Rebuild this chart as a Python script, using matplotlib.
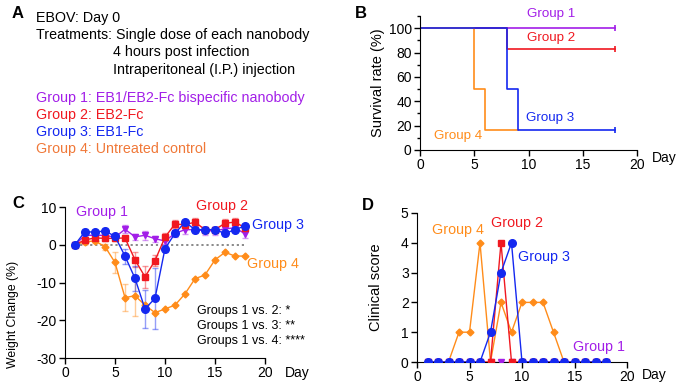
import numpy as np
import matplotlib
matplotlib.use('Agg')
import matplotlib.pyplot as plt

plt.rcParams['font.family'] = ['Liberation Sans', 'DejaVu Sans']
plt.rcParams['font.size'] = 10.3
plt.rcParams['axes.unicode_minus'] = False

purple = '#A21EE8'
red = '#F01820'
blue = '#1428F0'
orange = '#FF8C1A'
orange_txt = '#F07838'

# --- survival (panel B) ---
g1_t = [0, 18]; g1_s = [100, 100]
g2_t = [0, 8, 18]; g2_s = [100, 83.3, 83.3]
g3_t = [0, 8, 9, 18]; g3_s = [100, 50, 16.7, 16.7]
g4_t = [0, 5, 6, 9]; g4_s = [100, 50, 16.7, 16.7]

# --- weight change (panel C) ---
days = np.arange(1, 19)
w1 = [0, 2.5, 2.5, 2.5, 2.0, 4.1, 2.1, 2.5, 1.6, 1.0, 3.0, 4.0, 4.0, 3.7, 3.7, 4.2, 4.5, 2.9]
e1 = [0, 0.8, 0.8, 0.8, 0.6, 1.0, 0.8, 1.2, 0.8, 0.8, 1.0, 1.2, 1.0, 1.0, 1.0, 1.0, 1.2, 1.0]
w2 = [0, 1.3, 1.8, 1.7, 1.7, 1.8, -4.0, -8.5, -4.2, 2.0, 5.5, 5.3, 6.0, 4.0, 4.0, 5.7, 6.0, 4.5]
e2 = [0, 1.0, 0.8, 0.8, 0.6, 0.6, 2.0, 3.0, 1.5, 1.0, 1.0, 1.2, 1.0, 0.8, 0.8, 1.0, 1.2, 1.0]
w3 = [0, 3.5, 3.3, 3.7, 2.2, -3.0, -8.9, -17.0, -14.2, -1.0, 3.0, 6.0, 4.0, 4.0, 4.0, 3.0, 4.0, 5.0]
e3 = [0, 0.6, 0.6, 0.8, 0.5, 2.0, 3.3, 5.0, 8.0, 1.0, 0.8, 0.6, 0.6, 0.6, 0.6, 0.6, 0.6, 0.6]
w4 = [0, 0.8, 1.0, -0.5, -4.7, -14.0, -13.5, -16.0, -18.0, -17.0, -16.0, -13.0, -9.0, -8.0, -4.0, -2.0, -3.0, -3.0]
e4 = [0, 0.5, 0.5, 0.8, 2.8, 3.5, 5.5, 0, 0, 0, 0, 0, 0, 0, 0, 0, 0, 0]

# --- clinical score (panel D) ---
c1 = [0] * 18
c2 = [0, 0, 0, 0, 0, 0, 0, 4, 0, 0, 0, 0, 0, 0, 0, 0, 0, 0]
c3 = [0, 0, 0, 0, 0, 0, 1, 3, 4, 0, 0, 0, 0, 0, 0, 0, 0, 0]
c4 = [0, 0, 0, 1, 1, 4, 0, 2, 1, 2, 2, 2, 1, 0]

W, H = 680, 388
fig = plt.figure(figsize=(6.8, 3.88), dpi=100)


def px_axes(x0, y0, x1, y1):
    return fig.add_axes([x0 / W, 1 - y1 / H, (x1 - x0) / W, (y1 - y0) / H])


def style(ax):
    ax.spines['top'].set_visible(False)
    ax.spines['right'].set_visible(False)
    ax.tick_params(width=1, length=4, labelsize=10, pad=2)


# panel A
fig.text(12 / W, 1 - 14 / H, 'A', fontsize=12, fontweight='bold', va='center')
lines_a = [('EBOV: Day 0', 36, 18), ('Treatments: Single dose of each nanobody', 36, 35),
           ('4 hours post infection', 113, 52), ('Intraperitoneal (I.P.) injection', 113, 70)]
for s, x, y in lines_a:
    fig.text(x / W, 1 - y / H, s, va='center', color='black')
groups_a = [('Group 1: EB1/EB2-Fc bispecific nanobody', purple),
            ('Group 2: EB2-Fc', red), ('Group 3: EB1-Fc', blue),
            ('Group 4: Untreated control', orange_txt)]
for i, (s, c) in enumerate(groups_a):
    fig.text(36 / W, 1 - (98 + 17 * i) / H, s, va='center', color=c)

# panel B
axB = px_axes(420, 16, 637, 150)
style(axB)
axB.step(g1_t, g1_s, where='post', color=purple, lw=1.2)
axB.step(g2_t, g2_s, where='post', color=red, lw=1.2)
axB.step(g4_t, g4_s, where='post', color=orange, lw=1.2)
axB.step(g3_t, g3_s, where='post', color=blue, lw=1.2)
axB.plot([18], [100], ls='none', marker='|', ms=4, mew=1.2, color=purple)
axB.plot([18], [83.3], ls='none', marker='|', ms=4, mew=1.2, color=red)
axB.plot([18], [16.7], ls='none', marker='|', ms=4, mew=1.2, color=blue)
axB.set_xlim(0, 20)
axB.set_ylim(0, 110)
axB.set_xticks([0, 5, 10, 15, 20])
axB.set_yticks([0, 20, 40, 60, 80, 100])
axB.set_yticks(np.arange(10, 111, 20), minor=True)
axB.tick_params(which='minor', length=2.5, width=1)
axB.set_ylabel('Survival rate (%)', fontsize=10.5)
axB.yaxis.set_label_coords(-0.16, 0.5)
axB.text(1.07, -0.01, 'Day', transform=axB.transAxes, fontsize=10, va='top', ha='left')
axB.text(12.1, 111.6, 'Group 1', color=purple, fontsize=9.6, ha='center', va='center')
axB.text(12.1, 92, 'Group 2', color=red, fontsize=9.6, ha='center', va='center')
axB.text(12.0, 26.3, 'Group 3', color=blue, fontsize=9.6, ha='center', va='center')
axB.text(3.5, 11.5, 'Group 4', color=orange, fontsize=9.6, ha='center', va='center')
fig.text(355 / W, 1 - 14 / H, 'B', fontsize=12, fontweight='bold', va='center')

# panel C
axC = px_axes(65, 207, 265, 358)
style(axC)
axC.plot([1, 18], [0, 0], ls=(0, (1.2, 1.6)), color='#808080', lw=1.3, zorder=1)
series_c = [(w4, e4, orange, 'D', 3.5), (w1, e1, purple, 'v', 5),
            (w2, e2, red, 's', 5), (w3, e3, blue, 'o', 5.5)]
for w, e, c, m, ms in series_c:
    axC.errorbar(days, w, yerr=e, fmt='none', ecolor=c, elinewidth=1, capsize=2.5,
                 capthick=1, alpha=0.45, zorder=2)
    axC.plot(days, w, color=c, marker=m, ms=ms, lw=1, zorder=3)
axC.set_xlim(0, 20)
axC.set_ylim(-30, 10)
axC.set_xticks([0, 5, 10, 15, 20])
axC.set_yticks([-30, -20, -10, 0, 10])
axC.set_ylabel('Weight Change (%)', fontsize=8.8)
axC.yaxis.set_label_coords(-0.23, 0.29)
axC.text(1.10, -0.05, 'Day', transform=axC.transAxes, fontsize=10, va='top', ha='left')
axC.text(3.67, 8.6, 'Group 1', color=purple, fontsize=10.3, ha='center', va='center')
axC.text(15.75, 10.2, 'Group 2', color=red, fontsize=10.3, ha='center', va='center')
axC.text(21.3, 5.2, 'Group 3', color=blue, fontsize=10.3, ha='center', va='center')
axC.text(20.75, -5.1, 'Group 4', color=orange, fontsize=10.3, ha='center', va='center')
stats = ['Groups 1 vs. 2: *', 'Groups 1 vs. 3: **', 'Groups 1 vs. 4: ****']
for i, s in enumerate(stats):
    axC.text(13.2, -17.5 - 3.95 * i, s, fontsize=9, va='center', color='black')
fig.text(12 / W, 1 - 204 / H, 'C', fontsize=12, fontweight='bold', va='center')

# panel D
axD = px_axes(417, 213, 627, 362)
style(axD)
axD.plot(days[:len(c4)], c4, color=orange, marker='D', ms=3.5, lw=1, zorder=2)
axD.plot(days, c1, color=purple, marker='v', ms=5, lw=1, zorder=3)
axD.plot(days, c2, color=red, marker='s', ms=5, lw=1, zorder=4)
axD.plot(days, c3, color=blue, marker='o', ms=5.5, lw=1, zorder=5)
axD.set_xlim(0, 20)
axD.set_ylim(0, 5)
axD.set_xticks([0, 5, 10, 15, 20])
axD.set_yticks([0, 1, 2, 3, 4, 5])
axD.set_ylabel('Clinical score', fontsize=10.5)
axD.yaxis.set_label_coords(-0.16, 0.5)
axD.text(1.07, -0.04, 'Day', transform=axD.transAxes, fontsize=10, va='top', ha='left')
axD.text(3.9, 4.43, 'Group 4', color=orange, fontsize=10.3, ha='center', va='center')
axD.text(9.5, 4.66, 'Group 2', color=red, fontsize=10.3, ha='center', va='center')
axD.text(12.1, 3.52, 'Group 3', color=blue, fontsize=10.3, ha='center', va='center')
axD.text(17.3, 0.5, 'Group 1', color=purple, fontsize=10.3, ha='center', va='center')
fig.text(362 / W, 1 - 205 / H, 'D', fontsize=12, fontweight='bold', va='center')

fig.savefig('out.png', dpi=100)
